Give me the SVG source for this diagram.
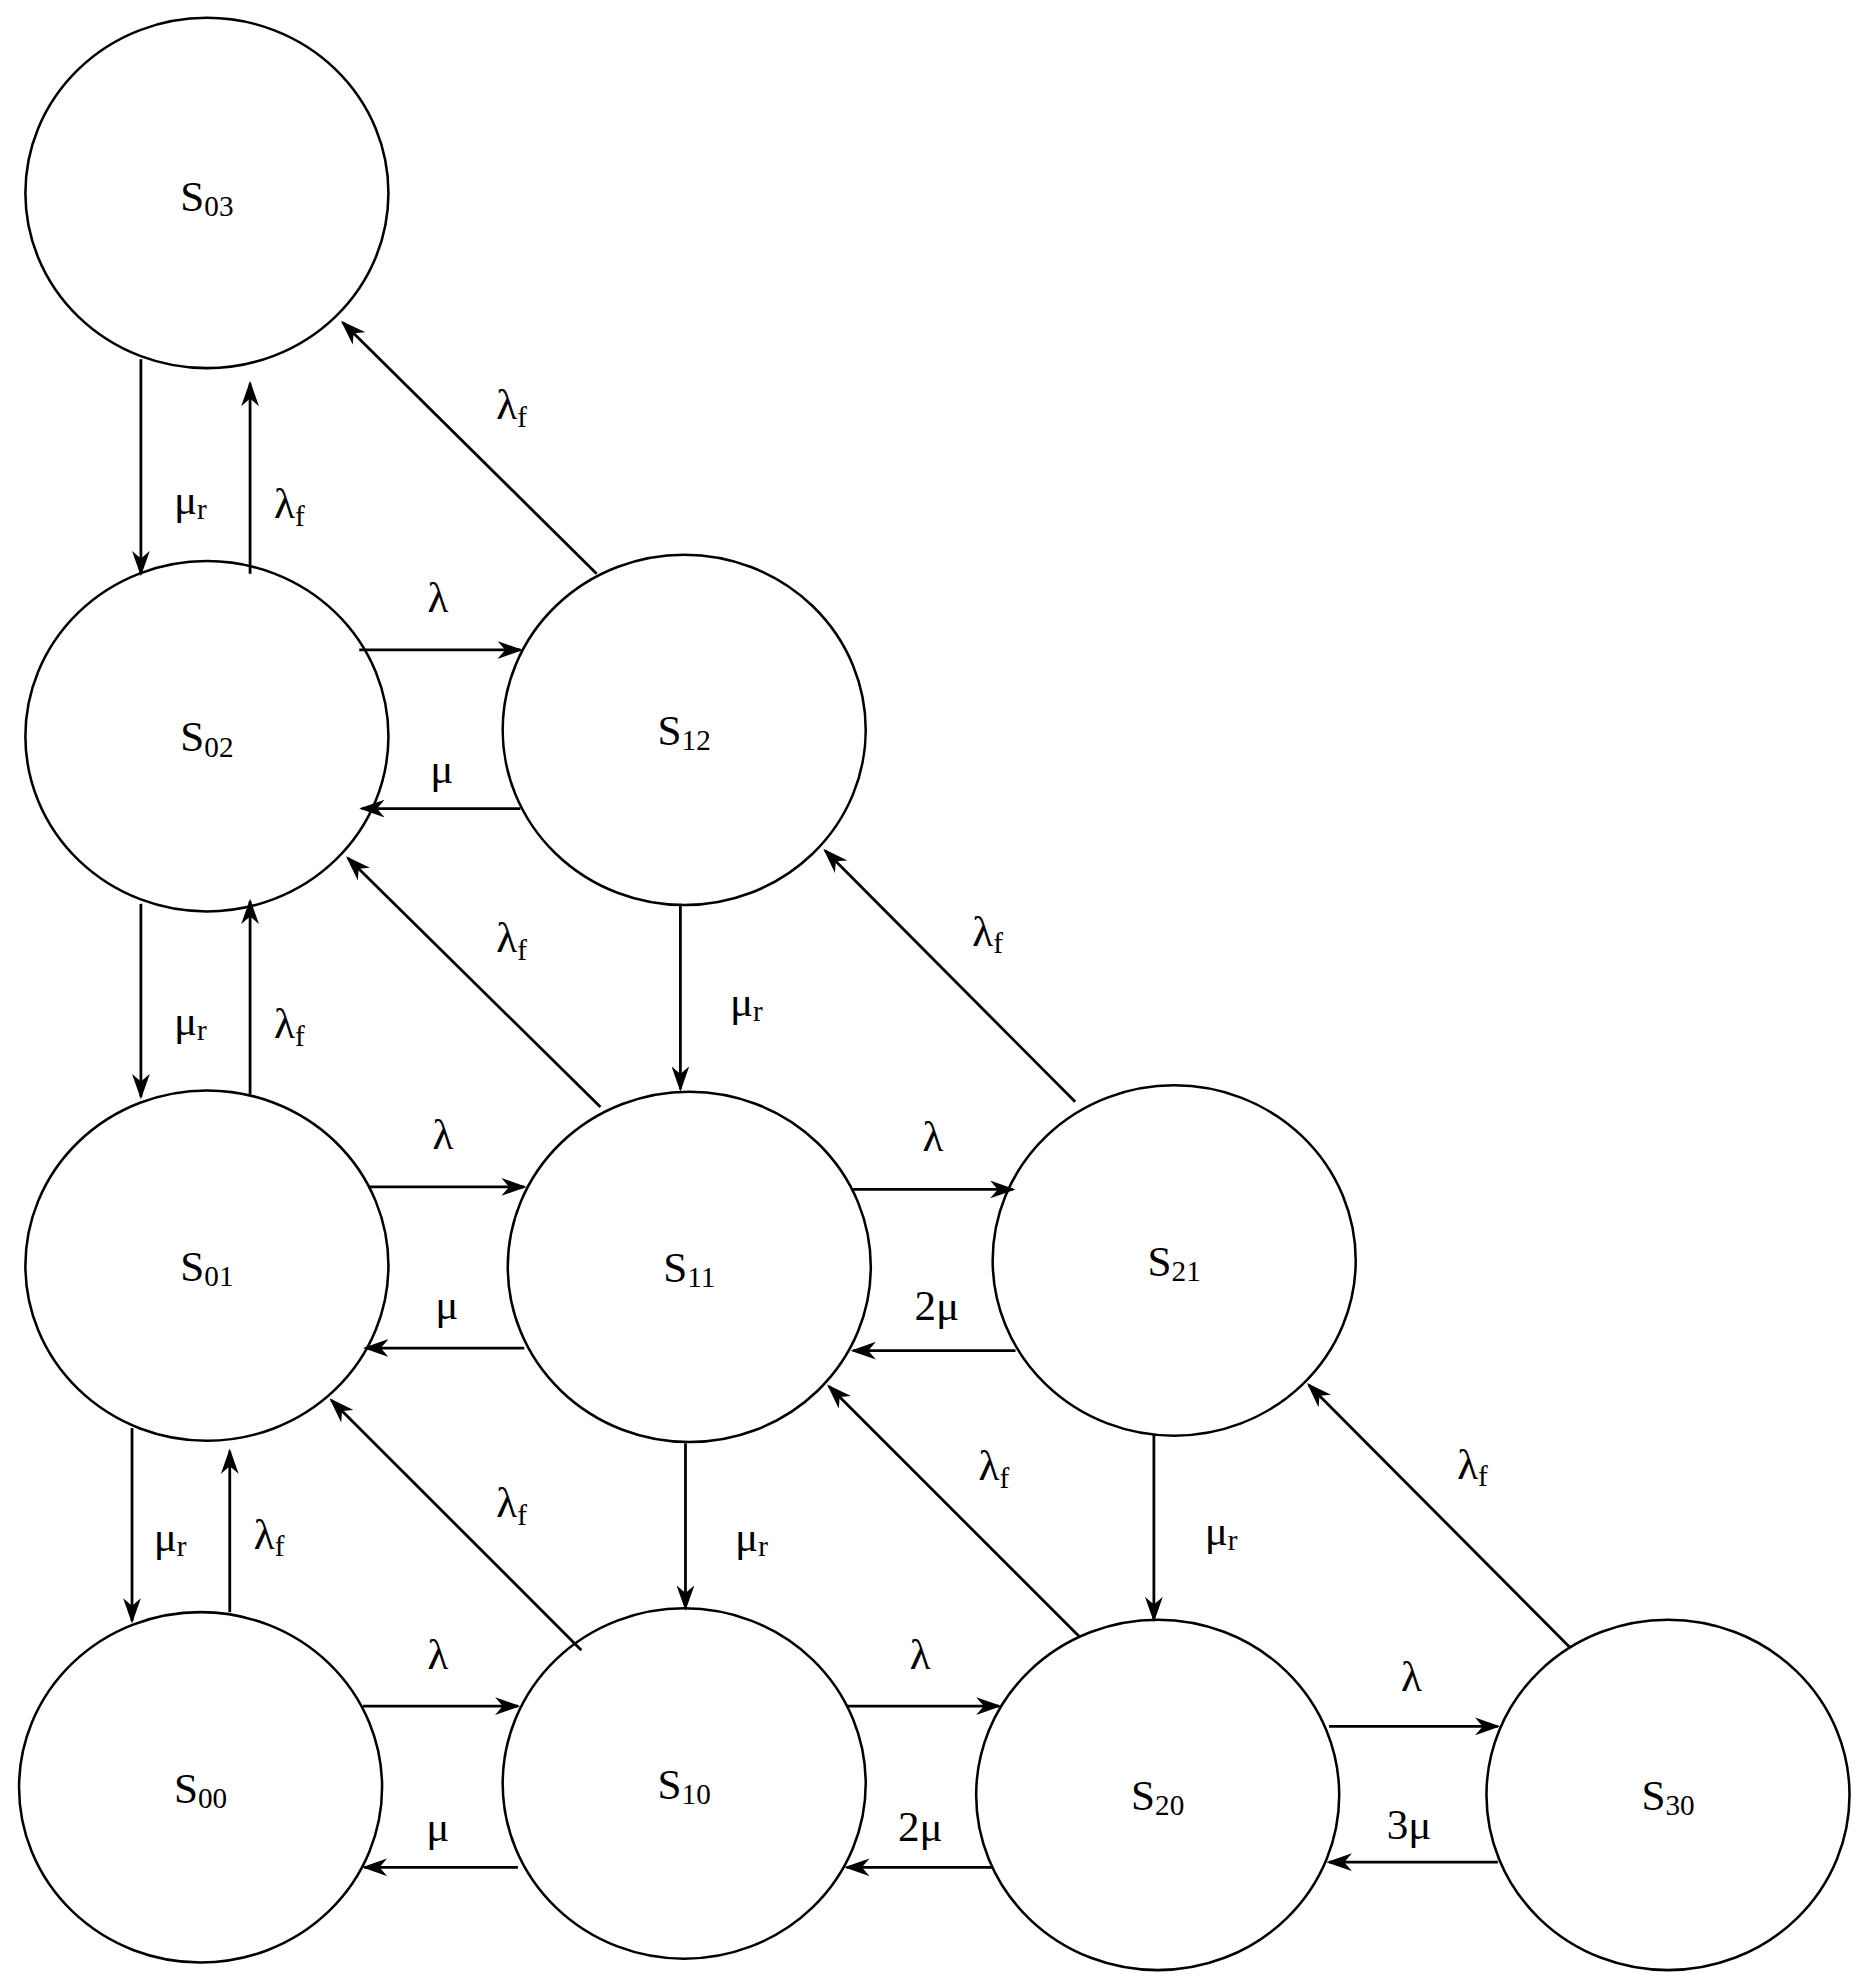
<svg xmlns="http://www.w3.org/2000/svg" width="1866" height="1987" viewBox="0 0 1866 1987">
<defs>
<style>
.n{fill:#fff;stroke:#000;stroke-width:2}
.e{stroke:#000;stroke-width:2.2;fill:none;marker-end:url(#a)}
.t text{font-size:34px;text-anchor:middle;fill:#000}
.s{font-size:23px}
</style>
<marker id="a" viewBox="0 0 20 14" refX="18" refY="7" markerWidth="20" markerHeight="14" markerUnits="userSpaceOnUse" orient="auto"><path d="M0,0 L20,7 L0,14 L6,7 Z" fill="#000"/></marker>
</defs>
<rect width="1866" height="1987" fill="#fff"/>
<g transform="scale(1.2694)" class="t" font-family="'Liberation Serif', 'Times New Roman', 'DejaVu Serif', serif">
<g id="S03"><ellipse class="n" cx="163" cy="152" rx="143" ry="138"/><text x="163" y="166">S<tspan class="s" dy="4">03</tspan></text></g>
<g id="S02"><ellipse class="n" cx="163" cy="580" rx="143" ry="138"/><text x="163" y="592">S<tspan class="s" dy="4">02</tspan></text></g>
<g id="S12"><ellipse class="n" cx="539" cy="575" rx="143" ry="138"/><text x="539" y="587">S<tspan class="s" dy="4">12</tspan></text></g>
<g id="S01"><ellipse class="n" cx="163" cy="997" rx="143" ry="138"/><text x="163" y="1009">S<tspan class="s" dy="4">01</tspan></text></g>
<g id="S11"><ellipse class="n" cx="543" cy="998" rx="143" ry="138"/><text x="543" y="1010">S<tspan class="s" dy="4">11</tspan></text></g>
<g id="S21"><ellipse class="n" cx="925" cy="993" rx="143" ry="138"/><text x="925" y="1005">S<tspan class="s" dy="4">21</tspan></text></g>
<g id="S00"><ellipse class="n" cx="158" cy="1408" rx="143" ry="138"/><text x="158" y="1420">S<tspan class="s" dy="4">00</tspan></text></g>
<g id="S10"><ellipse class="n" cx="539" cy="1405" rx="143" ry="138"/><text x="539" y="1417">S<tspan class="s" dy="4">10</tspan></text></g>
<g id="S20"><ellipse class="n" cx="912" cy="1414" rx="143" ry="138"/><text x="912" y="1426">S<tspan class="s" dy="4">20</tspan></text></g>
<g id="S30"><ellipse class="n" cx="1314" cy="1414" rx="143" ry="138"/><text x="1314" y="1426">S<tspan class="s" dy="4">30</tspan></text></g>
<g id="connectors">
<line class="e" x1="111" y1="283" x2="111" y2="452"/>
<line class="e" x1="197" y1="452" x2="197" y2="302"/>
<line class="e" x1="283" y1="512" x2="410" y2="512"/>
<line class="e" x1="410" y1="637" x2="285" y2="637"/>
<line class="e" x1="470" y1="452" x2="270" y2="254"/>
<line class="e" x1="111" y1="712" x2="111" y2="864"/>
<line class="e" x1="197" y1="862" x2="197" y2="710"/>
<line class="e" x1="473" y1="872" x2="274" y2="676"/>
<line class="e" x1="536" y1="712" x2="536" y2="858"/>
<line class="e" x1="847" y1="868" x2="650" y2="670"/>
<line class="e" x1="290" y1="935" x2="413" y2="935"/>
<line class="e" x1="413" y1="1062" x2="288" y2="1062"/>
<line class="e" x1="672" y1="937" x2="798" y2="937"/>
<line class="e" x1="800" y1="1064" x2="672" y2="1064"/>
<line class="e" x1="104" y1="1125" x2="104" y2="1277"/>
<line class="e" x1="181" y1="1270" x2="181" y2="1143"/>
<line class="e" x1="458" y1="1300" x2="261" y2="1103"/>
<line class="e" x1="540" y1="1137" x2="540" y2="1267"/>
<line class="e" x1="850" y1="1289" x2="653" y2="1092"/>
<line class="e" x1="909" y1="1130" x2="909" y2="1276"/>
<line class="e" x1="1237" y1="1298" x2="1031" y2="1091"/>
<line class="e" x1="286" y1="1344" x2="408" y2="1344"/>
<line class="e" x1="408" y1="1471" x2="287" y2="1471"/>
<line class="e" x1="667" y1="1344" x2="787" y2="1344"/>
<line class="e" x1="782" y1="1471" x2="667" y2="1471"/>
<line class="e" x1="1047" y1="1360" x2="1180" y2="1360"/>
<line class="e" x1="1180" y1="1467" x2="1047" y2="1467"/>
</g>
<g id="labels">
<text x="150" y="405">μ<tspan class="s" dy="4">r</tspan></text>
<text x="228" y="408">λ<tspan class="s" dy="6">f</tspan></text>
<text x="345" y="482">λ</text>
<text x="348" y="617">μ</text>
<text x="403" y="330">λ<tspan class="s" dy="6">f</tspan></text>
<text x="150" y="815">μ<tspan class="s" dy="4">r</tspan></text>
<text x="228" y="818">λ<tspan class="s" dy="6">f</tspan></text>
<text x="403" y="750">λ<tspan class="s" dy="6">f</tspan></text>
<text x="588" y="800">μ<tspan class="s" dy="4">r</tspan></text>
<text x="778" y="745">λ<tspan class="s" dy="6">f</tspan></text>
<text x="349" y="905">λ</text>
<text x="352" y="1039">μ</text>
<text x="735" y="907">λ</text>
<text x="738" y="1040">2μ</text>
<text x="134" y="1222">μ<tspan class="s" dy="4">r</tspan></text>
<text x="212" y="1220">λ<tspan class="s" dy="6">f</tspan></text>
<text x="403" y="1195">λ<tspan class="s" dy="6">f</tspan></text>
<text x="592" y="1222">μ<tspan class="s" dy="4">r</tspan></text>
<text x="783" y="1166">λ<tspan class="s" dy="6">f</tspan></text>
<text x="962" y="1217">μ<tspan class="s" dy="4">r</tspan></text>
<text x="1160" y="1165">λ<tspan class="s" dy="6">f</tspan></text>
<text x="345" y="1315">λ</text>
<text x="345" y="1450">μ</text>
<text x="725" y="1315">λ</text>
<text x="725" y="1450">2μ</text>
<text x="1112" y="1332">λ</text>
<text x="1110" y="1449">3μ</text>
</g>
</g>
</svg>
